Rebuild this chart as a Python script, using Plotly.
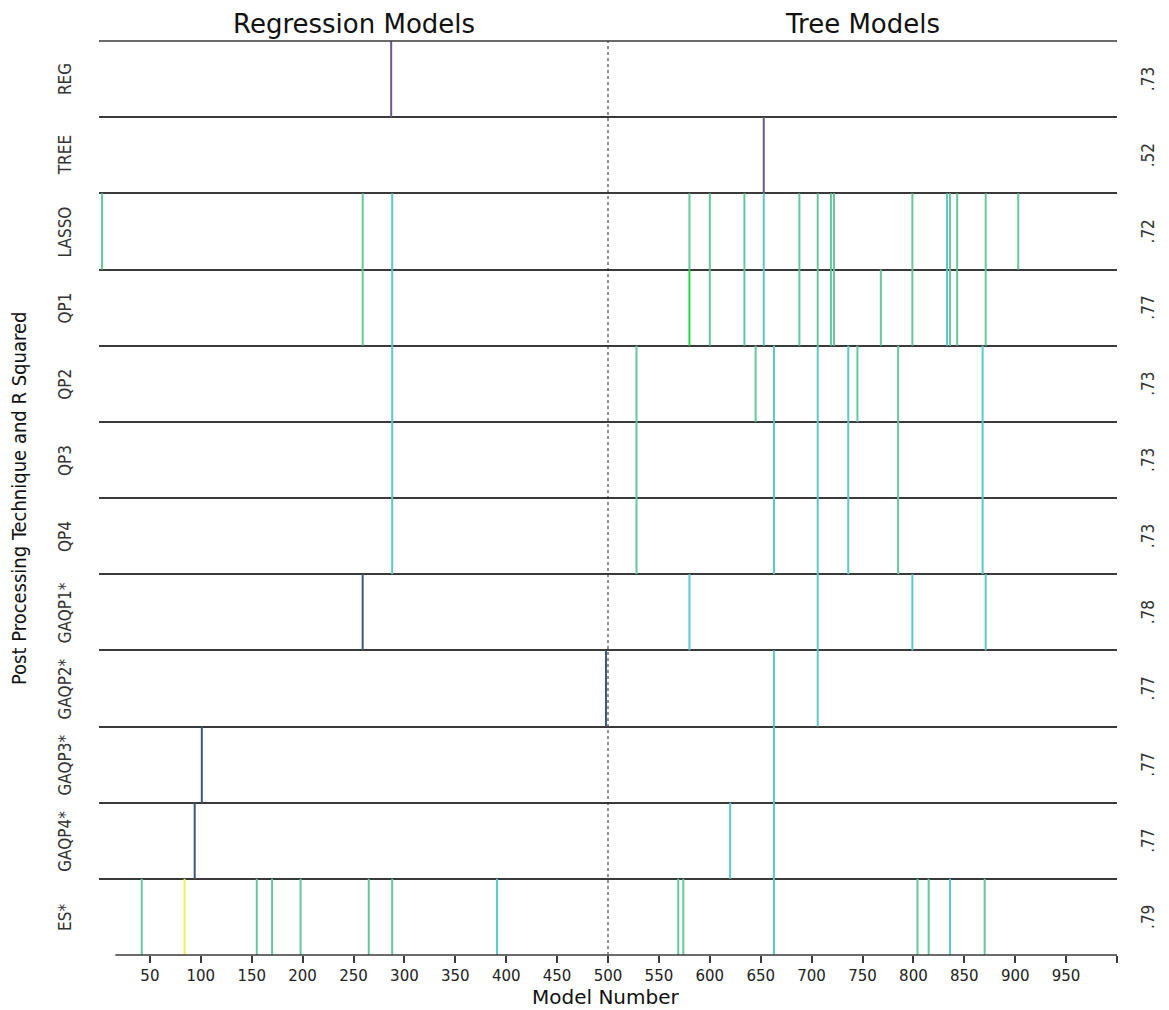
import plotly.graph_objects as go

# ---------------- data ----------------
techniques = ["REG", "TREE", "LASSO", "QP1", "QP2", "QP3", "QP4",
              "GAQP1*", "GAQP2*", "GAQP3*", "GAQP4*", "ES*"]
r_squared = [".73", ".52", ".72", ".77", ".73", ".73", ".73",
             ".78", ".77", ".77", ".77", ".79"]

# selected model numbers per technique, and the weight class of each one
reg_models = [287]
reg_class = ["p"]
tree_models = [653]
tree_class = ["p"]
lasso_models = [3, 259, 288, 580, 600, 634, 653, 688, 706, 719, 722, 799, 833, 836, 843, 871, 903]
lasso_class = ["g", "g", "c", "g", "g", "g", "c", "g", "g", "g", "g", "g", "c", "g", "g", "g", "g"]
qp1_models = [259, 288, 580, 600, 634, 653, 688, 706, 719, 722, 768, 799, 833, 836, 843, 871]
qp1_class = ["g", "c", "G", "g", "g", "c", "g", "g", "g", "g", "g", "g", "c", "g", "g", "g"]
qp2_models = [288, 528, 645, 663, 706, 736, 745, 785, 868]
qp2_class = ["c", "g", "g", "c", "c", "c", "g", "g", "c"]
qp3_models = [288, 528, 663, 706, 736, 785, 868]
qp3_class = ["c", "g", "c", "c", "c", "g", "c"]
qp4_models = [288, 528, 663, 706, 736, 785, 868]
qp4_class = ["c", "g", "c", "c", "c", "g", "c"]
gaqp1_models = [259, 580, 706, 799, 871]
gaqp1_class = ["b", "c", "c", "c", "c"]
gaqp2_models = [498, 663, 706]
gaqp2_class = ["b", "c", "c"]
gaqp3_models = [101, 663]
gaqp3_class = ["b", "c"]
gaqp4_models = [94, 620, 663]
gaqp4_class = ["b", "c", "c"]
es_models = [42, 84, 155, 170, 198, 265, 288, 391, 569, 574, 663, 804, 815, 836, 870]
es_class = ["g", "y", "g", "g", "g", "g", "g", "c", "g", "g", "c", "g", "g", "c", "g"]

x_ticks = list(range(50, 1001, 50))
x_ticktext = [str(v) for v in range(50, 951, 50)] + [""]
group_titles = ["Regression Models", "Tree Models"]
group_centers = [250, 750]
divider = 500
axis_start = 16
x_max = 1000

models = [reg_models, tree_models, lasso_models, qp1_models, qp2_models, qp3_models,
          qp4_models, gaqp1_models, gaqp2_models, gaqp3_models, gaqp4_models, es_models]
classes = [reg_class, tree_class, lasso_class, qp1_class, qp2_class, qp3_class,
           qp4_class, gaqp1_class, gaqp2_class, gaqp3_class, gaqp4_class, es_class]

# ---------------- styles ----------------
class_colors = {
    "p": "#6b5a8e",
    "b": "#3b5878",
    "c": "#5ec8c8",
    "g": "#64c99a",
    "G": "#22d84c",
    "y": "#eeee5a",
}
n = len(techniques)
NARROW = "Liberation Sans Narrow, Arial Narrow, DejaVu Sans Condensed, Liberation Sans, sans-serif"
WIDE = "DejaVu Sans, Verdana, Liberation Sans, sans-serif"
LINEC = "#3a3a3a"

fig = go.Figure()

for cls, col in class_colors.items():
    xs, ys = [], []
    for k in range(n):
        top = n - k
        bottom = n - k - 1
        for m, c in zip(models[k], classes[k]):
            if c == cls:
                xs += [m, m, None]
                ys += [bottom, top, None]
    if xs:
        fig.add_trace(go.Scatter(x=xs, y=ys, mode="lines",
                                 line=dict(color=col, width=2),
                                 hoverinfo="skip", showlegend=False))

# divider between regression and tree models
fig.add_trace(go.Scatter(x=[divider, divider], y=[0, n], mode="lines",
                         line=dict(color="#222222", width=1, dash="dot"),
                         hoverinfo="skip", showlegend=False))

# bottom axis line and top frame line (paper refs so they are not clipped)
fig.add_shape(type="line", x0=axis_start / x_max, x1=1, y0=0, y1=0,
              xref="paper", yref="paper", line=dict(color=LINEC, width=1.5))
fig.add_shape(type="line", x0=0, x1=1, y0=1, y1=1,
              xref="paper", yref="paper", line=dict(color=LINEC, width=1.5))

annotations = []
for k, (name, r2) in enumerate(zip(techniques, r_squared)):
    yc = n - k - 0.5
    annotations.append(dict(x=-0.0334, xref="paper", y=yc, yref="y", text=name,
                            showarrow=False, textangle=-90, xanchor="center", yanchor="middle",
                            font=dict(family=NARROW, size=17, color="#333333")))
    annotations.append(dict(x=1.0305, xref="paper", y=yc, yref="y", text=r2,
                            showarrow=False, textangle=-90, xanchor="center", yanchor="middle",
                            font=dict(family=NARROW, size=17, color="#333333")))

for t, xc in zip(group_titles, group_centers):
    annotations.append(dict(x=xc, xref="x", y=1.0186, yref="paper", text=t,
                            showarrow=False, xanchor="center", yanchor="middle",
                            font=dict(family=WIDE, size=26, color="#111111")))

annotations.append(dict(x=-0.0785, xref="paper", y=0.5, yref="paper",
                        text="Post Processing Technique and R Squared",
                        showarrow=False, textangle=-90, xanchor="center", yanchor="middle",
                        font=dict(family=NARROW, size=20, color="#111111")))
annotations.append(dict(x=498, xref="x", y=-0.0459, yref="paper", text="Model Number",
                        showarrow=False, xanchor="center", yanchor="middle",
                        font=dict(family=WIDE, size=20, color="#111111")))

fig.update_layout(
    width=1169, height=1010,
    margin=dict(l=99, r=52, t=41, b=55),
    paper_bgcolor="white", plot_bgcolor="white",
    annotations=annotations,
    xaxis=dict(range=[0, x_max], tickvals=x_ticks, ticktext=x_ticktext,
               ticks="outside", ticklen=7, tickwidth=1.5, tickcolor=LINEC,
               showgrid=False, zeroline=False, showline=False,
               tickfont=dict(family=WIDE, size=15, color="#222222")),
    yaxis=dict(range=[0, n], tickvals=list(range(1, n + 1)), showticklabels=False,
               showgrid=True, gridcolor=LINEC, gridwidth=1.5, zeroline=False,
               showline=False, ticks=""),
)

fig.write_html("out.html")
